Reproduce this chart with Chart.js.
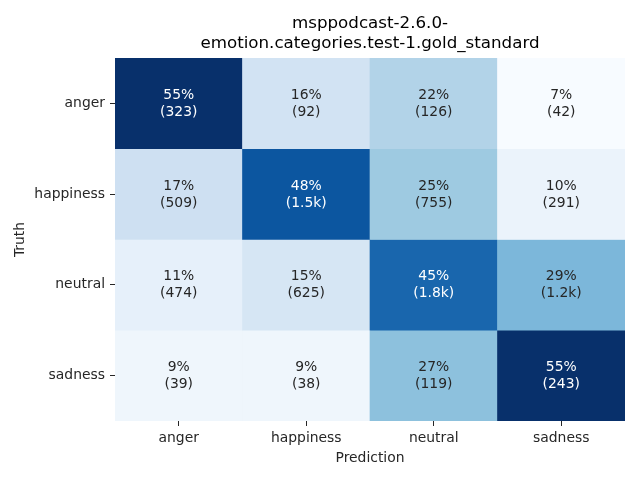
<!DOCTYPE html>
<html>
<head>
<meta charset="utf-8">
<script src="https://cdn.jsdelivr.net/npm/chart.js@4.4.0/dist/chart.umd.min.js"></script>
<style>
  body { margin: 0; background: #fff; }
  canvas { display: block; }
</style>
</head>
<body>
<canvas id="cm" width="640" height="480"></canvas>
<script>
// etiquetas y valores de la matriz de confusion
const titleLines = ['msppodcast-2.6.0-', 'emotion.categories.test-1.gold_standard'];
const predLabels = ['anger', 'happiness', 'neutral', 'sadness'];
const truthLabels = ['anger', 'happiness', 'neutral', 'sadness'];
const rowAnger = [55, 16, 22, 7];
const rowHappiness = [17, 48, 25, 10];
const rowNeutral = [11, 15, 45, 29];
const rowSadness = [9, 9, 27, 55];
const countAnger = ['(323)', '(92)', '(126)', '(42)'];
const countHappiness = ['(509)', '(1.5k)', '(755)', '(291)'];
const countNeutral = ['(474)', '(625)', '(1.8k)', '(1.2k)'];
const countSadness = ['(39)', '(38)', '(119)', '(243)'];

const percentRows = [rowAnger, rowHappiness, rowNeutral, rowSadness];
const countRows = [countAnger, countHappiness, countNeutral, countSadness];

// colormap Blues (matplotlib)
const blues = ['#f7fbff', '#deebf7', '#c6dbef', '#9ecae1', '#6baed6', '#4292c6', '#2171b5', '#08519c', '#08306b']
  .map(h => [parseInt(h.slice(1, 3), 16), parseInt(h.slice(3, 5), 16), parseInt(h.slice(5, 7), 16)]);

const allVals = percentRows.flat();
const vmin = Math.min(...allVals);
const vmax = Math.max(...allVals);

function bluesRgb(v) {
    let t = (v - vmin) / (vmax - vmin);
    t = Math.max(0, Math.min(1, t)) * (blues.length - 1);
    const i = Math.min(Math.floor(t), blues.length - 2);
    const f = t - i;
    return blues[i].map((c, k) => Math.round(c + (blues[i + 1][k] - c) * f));
}

function luminance(rgb) {
    const lin = rgb.map(c => {
        c = c / 255;
        return c <= 0.03928 ? c / 12.92 : Math.pow((c + 0.055) / 1.055, 2.4);
    });
    return 0.2126 * lin[0] + 0.7152 * lin[1] + 0.0722 * lin[2];
}

const datasets = percentRows.map((row, i) => ({
    label: truthLabels[i],
    data: row.map(() => 1),
    backgroundColor: row.map(v => 'rgb(' + bluesRgb(v).join(',') + ')'),
    borderWidth: 0,
    barPercentage: 1.0,
    categoryPercentage: 1.0
}));

// plugin para escribir los porcentajes y conteos en cada celda, y el titulo centrado sobre el area
const cellText = {
    id: 'cellText',
    afterDatasetsDraw(chart) {
        const ctx = chart.ctx;
        const area = chart.chartArea;
        ctx.save();
        ctx.font = '13.9px "DejaVu Sans"';
        ctx.textAlign = 'center';
        ctx.textBaseline = 'middle';
        percentRows.forEach((row, i) => {
            const meta = chart.getDatasetMeta(i);
            row.forEach((v, j) => {
                const bar = meta.data[j];
                const cy = (bar.y + bar.base) / 2;
                ctx.fillStyle = luminance(bluesRgb(v)) > 0.408 ? '#262626' : '#ffffff';
                ctx.fillText(v + '%', bar.x, cy - 8);
                ctx.fillText(countRows[i][j], bar.x, cy + 9);
            });
        });
        // titulo
        ctx.fillStyle = '#000';
        ctx.font = '16.7px "DejaVu Sans"';
        const cx = (area.left + area.right) / 2;
        titleLines.forEach((t, k) => ctx.fillText(t, cx, 24 + k * 20));
        ctx.restore();
    }
};

const tickFont = { family: 'DejaVu Sans', size: 13.9 };

new Chart(document.getElementById('cm').getContext('2d'), {
    type: 'bar',
    data: { labels: predLabels, datasets: datasets },
    options: {
        responsive: false,
        animation: false,
        layout: { padding: { left: 0, right: 15, top: 58, bottom: 0 } },
        plugins: {
            legend: { display: false },
            tooltip: { enabled: false },
            title: { display: false }
        },
        scales: {
            x: {
                stacked: true,
                grid: { offset: false, drawOnChartArea: false, tickLength: 5, color: '#262626' },
                border: { display: false },
                ticks: { color: '#262626', font: tickFont, padding: 4, maxRotation: 0 },
                title: {
                    display: true, text: 'Prediction', color: '#262626', font: tickFont,
                    padding: { top: 0, bottom: 13 }
                },
                afterFit(scale) { scale.height = 59; }
            },
            y: {
                stacked: true,
                min: 0,
                max: 4,
                reverse: true,
                grid: { drawOnChartArea: false, tickLength: 5, color: '#262626' },
                border: { display: false },
                afterBuildTicks(scale) {
                    scale.ticks = truthLabels.map((l, i) => ({ value: i + 0.5 }));
                },
                ticks: {
                    color: '#262626', font: tickFont, padding: 5,
                    callback: (v, idx) => truthLabels[idx]
                },
                title: {
                    display: true, text: 'Truth', color: '#262626', font: tickFont,
                    padding: { top: 12, bottom: 0 }
                },
                afterFit(scale) { scale.width = 115; }
            }
        }
    },
    plugins: [cellText]
});
</script>
</body>
</html>
